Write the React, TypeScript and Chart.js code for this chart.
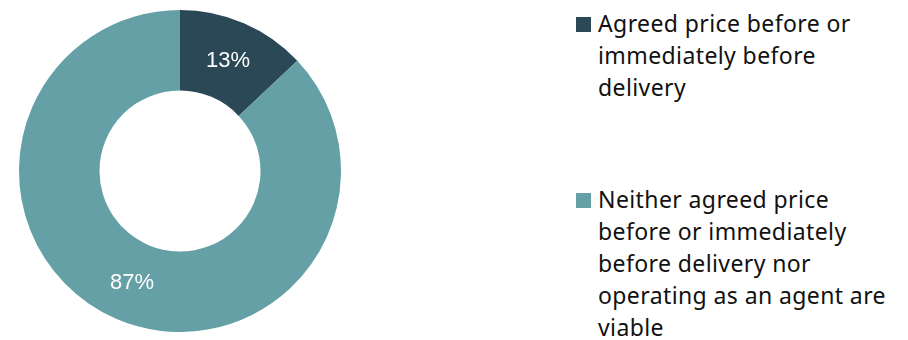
import React, { useEffect, useRef } from "react";
import { Chart, registerables } from "chart.js";

Chart.register(...registerables);

const categories = [
  "Agreed price before or immediately before delivery",
  "Neither agreed price before or immediately before delivery nor operating as an agent are viable",
];
const values = [13, 87];
const colors = ["#2B4856", "#64A0A6"];
const legendLines = [
  ["Agreed price before or", "immediately before", "delivery"],
  ["Neither agreed price", "before or immediately", "before delivery nor", "operating as an agent are", "viable"],
];
const legendTops = [7, 183];

const labelPlugin = {
  id: "sliceLabels",
  afterDatasetsDraw(chart: any) {
    const ctx = chart.ctx;
    const meta = chart.getDatasetMeta(0);
    const data = chart.data.datasets[0].data as number[];
    const total = data.reduce((a, b) => a + b, 0);
    ctx.save();
    ctx.fillStyle = "#ffffff";
    ctx.font = '22px "Liberation Sans", Arial, sans-serif';
    ctx.textAlign = "center";
    ctx.textBaseline = "middle";
    meta.data.forEach((arc: any, i: number) => {
      const p = arc.getCenterPoint();
      ctx.fillText(Math.round((data[i] / total) * 100) + "%", p.x, p.y + 1);
    });
    ctx.restore();
  },
};

export default function App() {
  const ref = useRef<HTMLCanvasElement | null>(null);
  useEffect(() => {
    document.body.style.margin = "0";
    if (!ref.current) return;
    const chart = new Chart(ref.current, {
      type: "doughnut",
      data: {
        labels: categories,
        datasets: [
          {
            data: values,
            backgroundColor: colors,
            borderWidth: 0,
          },
        ],
      },
      options: {
        animation: false,
        responsive: true,
        maintainAspectRatio: false,
        cutout: "50%",
        layout: { padding: 0 },
        plugins: {
          legend: { display: false },
          tooltip: { enabled: false },
        },
      },
      plugins: [labelPlugin],
    });
    return () => chart.destroy();
  }, []);

  return (
    <div style={{ position: "relative", width: 908, height: 340, background: "#fff", overflow: "hidden" }}>
      <div style={{ position: "absolute", left: 19, top: 10, width: 322, height: 322 }}>
        <canvas ref={ref} />
      </div>
      {legendLines.map((lines, i) => (
        <div
          key={i}
          style={{
            position: "absolute",
            left: 576,
            top: legendTops[i],
            fontFamily: '"Noto Sans", sans-serif',
            fontSize: 23,
            letterSpacing: "0.4px",
            lineHeight: "32px",
            color: "#111",
          }}
        >
          <div style={{ position: "absolute", left: 0, top: 10, width: 15, height: 15, background: colors[i] }} />
          <div style={{ marginLeft: 22, whiteSpace: "nowrap" }}>
            {lines.map((l, j) => (
              <div key={j}>{l}</div>
            ))}
          </div>
        </div>
      ))}
    </div>
  );
}
